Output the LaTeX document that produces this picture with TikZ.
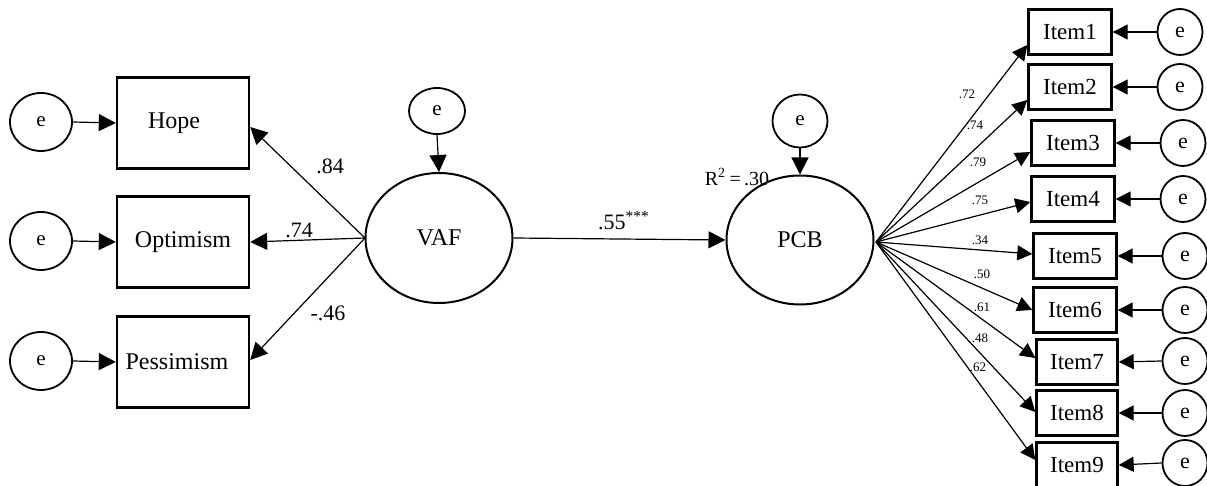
\documentclass[tikz,border=0pt]{standalone}
\usepackage{fontspec}
\setmainfont{Liberation Serif}
\usetikzlibrary{shapes.geometric,arrows.meta}
\begin{document}
\begin{tikzpicture}[x=0.5pt,y=-0.5pt,
  obsbox/.style={draw,rectangle,line width=1.2pt,inner sep=0pt,minimum width=66pt,minimum height=45.5pt,font=\fontsize{12}{14}\selectfont},
  itembox/.style={draw,rectangle,line width=1.2pt,inner sep=0pt,minimum width=41.5pt,minimum height=22.5pt,font=\fontsize{11.5}{13}\selectfont},
  latent/.style={draw,ellipse,line width=1pt,inner sep=0pt,minimum width=73.5pt,minimum height=65pt,font=\fontsize{12}{14}\selectfont},
  errnode/.style={draw,ellipse,line width=0.9pt,inner sep=0pt,font=\fontsize{10.5}{12}\selectfont},
  lerr/.style={errnode,minimum width=31pt,minimum height=29pt},
  rerr/.style={errnode,minimum width=22.5pt,minimum height=23pt,font=\fontsize{11}{13}\selectfont},
  bigpath/.style={line width=0.6pt,-{Triangle[length=8.5pt,width=8.5pt]}},
  smallpath/.style={line width=0.6pt,-{Triangle[length=7.5pt,width=7.5pt]}},
  coef/.style={font=\fontsize{11}{13}\selectfont,inner sep=0pt},
  load/.style={font=\fontsize{6.5}{8}\selectfont,inner sep=0pt}]
\useasboundingbox (0,0) rectangle (1207,486);

% left indicators of VAF
\node[obsbox] (hope) at (183,123) {\hspace*{-9pt}Hope};
\node[obsbox] (opt)  at (183,242) {Optimism};
\node[obsbox] (pess) at (183,362) {\hspace*{-6pt}Pessimism};
\node[lerr] (eh) at (41,122) {e};
\node[lerr] (eo) at (41,241) {e};
\node[lerr] (ep) at (41,361) {e};
\draw[bigpath] (eh.east) -- (hope.west);
\draw[bigpath] (eo.east) -- (opt.west);
\draw[bigpath] (ep.east) -- (pess.west);

% latent variables
\node[latent] (vaf) at (439,238) {VAF};
\node[latent,minimum height=64.5pt] (pcb) at (800,240) {PCB};
\node[errnode,minimum width=28pt,minimum height=23pt] (ev) at (437,111) {e};
\node[errnode,minimum width=27.5pt,minimum height=26.5pt] (ec) at (800,121) {e};
\draw[bigpath] (ev.south) -- (vaf.north);
\draw[bigpath] (ec.south) -- (pcb.north);

\coordinate (vo) at (365,238);
\draw[bigpath] (vo) -- ([yshift=-2pt]hope.east);
\draw[bigpath] (vo) -- (opt.east);
\draw[bigpath] (vo) -- ([yshift=1pt]pess.east);
\node[coef] (c1) at (330,166) {.84};
\node[coef] (c2) at (299,230) {.74};
\node[coef] (c3) at (328,313) {-.46};

\draw[bigpath] (vaf.east) -- (pcb.west);
\node[coef] (c4) at (624,221) {.55\textsuperscript{***}};
\node[font=\fontsize{10}{12}\selectfont,inner sep=0pt] (r2) at (737,177) {R\textsuperscript{2}\,=\,.30};

% items of PCB
\node[itembox] (i1) at (1070,32)  {Item1};
\node[itembox] (i2) at (1070,87)  {Item2};
\node[itembox] (i3) at (1073,143) {Item3};
\node[itembox] (i4) at (1073,199) {Item4};
\node[itembox] (i5) at (1075,256) {Item5};
\node[itembox] (i6) at (1075,310) {Item6};
\node[itembox,minimum width=40.5pt] (i7) at (1077,362) {Item7};
\node[itembox,minimum width=40.5pt] (i8) at (1077,413) {Item8};
\node[itembox,minimum width=40.5pt] (i9) at (1077,465) {Item9};

\node[rerr] (e1) at (1180,32)  {e};
\node[rerr] (e2) at (1180,87)  {e};
\node[rerr] (e3) at (1183,143) {e};
\node[rerr] (e4) at (1183,199) {e};
\node[rerr] (e5) at (1185,256) {e};
\node[rerr] (e6) at (1185,310) {e};
\node[rerr] (e7) at (1185,361) {e};
\node[rerr] (e8) at (1185,413) {e};
\node[rerr] (e9) at (1185,463) {e};
\foreach \k in {1,...,9}{
  \draw[smallpath] (e\k.west) -- (i\k.east);
}

\coordinate (po) at (876,242);
\draw[smallpath] (po) -- ([yshift=-6.5pt]i1.west);
\draw[smallpath] (po) -- ([yshift=-6.5pt]i2.west);
\draw[smallpath] (po) -- ([yshift=-4.5pt]i3.west);
\draw[smallpath] (po) -- ([yshift=-1.5pt]i4.west);
\draw[smallpath] (po) -- ([yshift=1pt]i5.west);
\draw[smallpath] (po) -- (i6.west);
\draw[smallpath] (po) -- ([yshift=2pt]i7.west);
\draw[smallpath] (po) -- ([yshift=0.5pt]i8.west);
\draw[smallpath] (po) -- ([yshift=2.5pt]i9.west);

\node[load] (l1) at (967,94)  {.72};
\node[load] (l2) at (975,125) {.74};
\node[load] (l3) at (978,162) {.79};
\node[load] (l4) at (980,200) {.75};
\node[load] (l5) at (980,240) {.34};
\node[load] (l6) at (982,274) {.50};
\node[load] (l7) at (982,307) {.61};
\node[load] (l8) at (980,338) {.48};
\node[load] (l9) at (978,367) {.62};
\end{tikzpicture}
\end{document}
